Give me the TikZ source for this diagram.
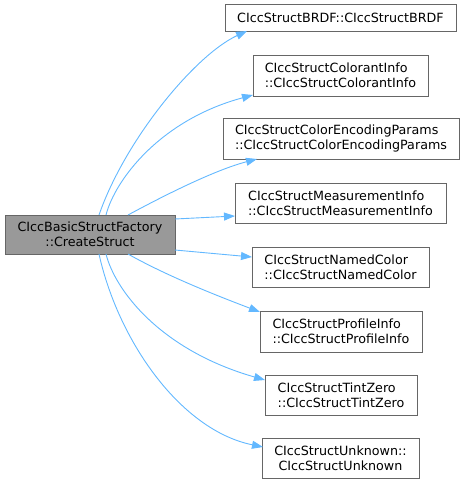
\documentclass[tikz,border=0pt]{standalone}
\usepackage{fontspec}
\setmainfont{DejaVu Sans}
\usetikzlibrary{arrows.meta}
\definecolor{edgeblue}{HTML}{63B8FF}
\definecolor{boxborder}{HTML}{666666}
\definecolor{srcfill}{HTML}{999999}
\begin{document}
\begin{tikzpicture}[x=1pt,y=-1pt,
  every node/.style={font=\fontsize{12.7}{15}\selectfont, inner sep=0pt, outer sep=0pt},
  srcbox/.style={draw=boxborder, fill=srcfill, line width=0.8pt, align=center},
  tgtbox/.style={draw=boxborder, fill=white, line width=0.8pt, align=left},
  link/.style={draw=edgeblue, line width=0.9pt, -{Triangle[length=11pt,width=8pt]}}
]
\useasboundingbox (0,0) rectangle (464,485);
\node[srcbox, minimum width=170pt, minimum height=39pt] (src) at (90,234.5) {CIccBasicStructFactory\\::CreateStruct};
\node[tgtbox, minimum width=231pt, minimum height=27pt] (brdf) at (340.5,17.5) {CIccStructBRDF::CIccStructBRDF};
\node[tgtbox, minimum width=175pt, minimum height=41pt] (colorant) at (340.5,75.5) {CIccStructColorantInfo\\::CIccStructColorantInfo};
\node[tgtbox, minimum width=236pt, minimum height=41pt] (colorenc) at (341,138.5) {CIccStructColorEncodingParams\\::CIccStructColorEncodingParams};
\node[tgtbox, minimum width=211pt, minimum height=40pt] (meas) at (340.5,203) {CIccStructMeasurementInfo\\::CIccStructMeasurementInfo};
\node[tgtbox, minimum width=177pt, minimum height=40pt] (named) at (340.5,267) {CIccStructNamedColor\\::CIccStructNamedColor};
\node[tgtbox, minimum width=162pt, minimum height=41pt] (profile) at (341,331.5) {CIccStructProfileInfo\\::CIccStructProfileInfo};
\node[tgtbox, minimum width=152pt, minimum height=40pt] (tint) at (341,395) {CIccStructTintZero\\::CIccStructTintZero};
\node[tgtbox, align=center, minimum width=157pt, minimum height=40pt] (unknown) at (340.5,458) {CIccStructUnknown::\\CIccStructUnknown};

\draw[link] ([xshift=94pt]src.north west) .. controls (125,140) and (195,55) .. ([xshift=22pt]brdf.south west);
\draw[link] ([xshift=101pt]src.north west) .. controls (115,180) and (160,120) .. ([yshift=1pt]colorant.south west);
\draw[link] ([xshift=123pt]src.north west) .. controls (165,195) and (215,170) .. ([xshift=34pt]colorenc.south west);
\draw[link] ([yshift=-4pt]src.north east) -- ([yshift=-13pt]meas.west);
\draw[link] ([yshift=4pt]src.south east) -- ([yshift=10pt]named.west);
\draw[link] ([xshift=123pt]src.south west) .. controls (165,275) and (215,295) .. ([yshift=-1pt]profile.north west);
\draw[link] ([xshift=101pt]src.south west) .. controls (115,290) and (160,350) .. ([yshift=-5pt]tint.north west);
\draw[link] ([xshift=94pt]src.south west) .. controls (118,340) and (180,430) .. ([xshift=1pt,yshift=-9pt]unknown.north west);
\end{tikzpicture}
\end{document}
